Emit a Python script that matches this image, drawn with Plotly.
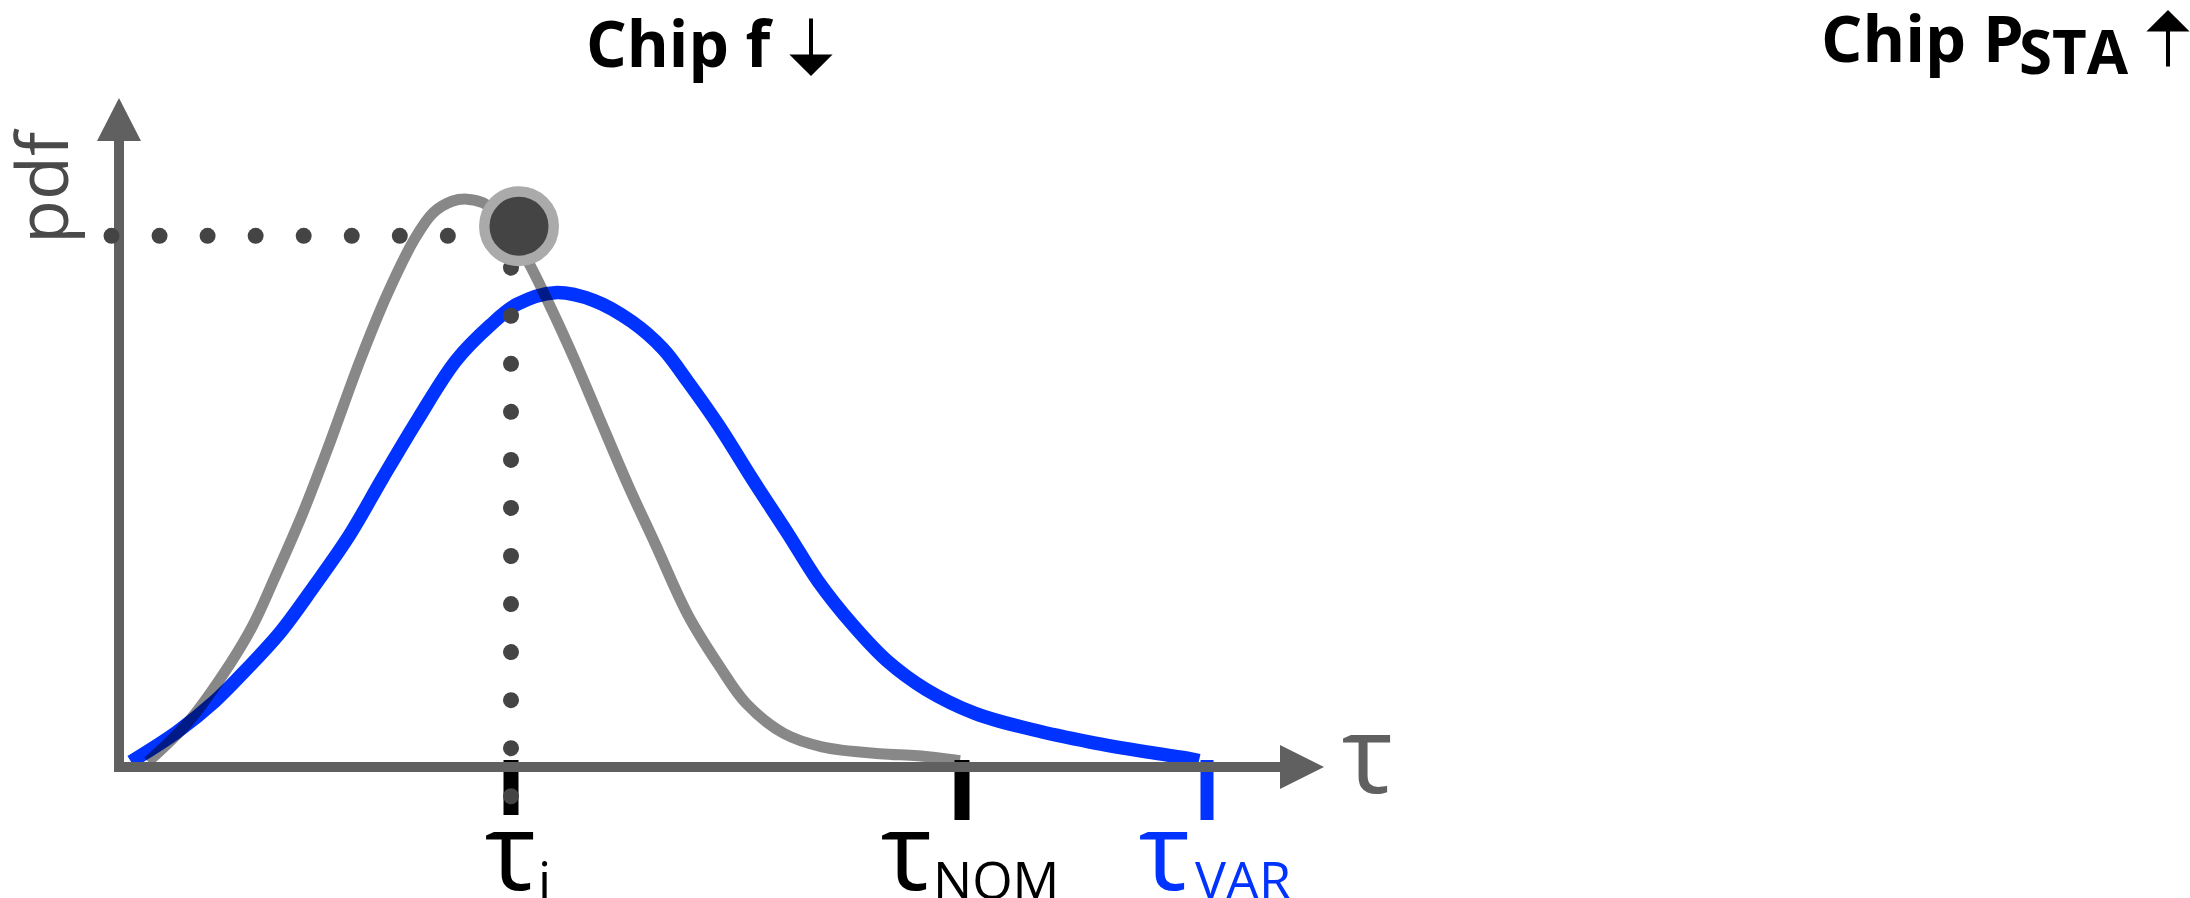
import numpy as np
import plotly.graph_objects as go

# ---- data -------------------------------------------------------------
# delay pdf of the nominal chip (grey) and with variation (blue)
tau_nom = [0.29, 0.69, 1.11, 1.34, 1.57, 1.84, 2.11, 2.41, 2.68, 2.95, 3.14, 3.33,
           3.48, 3.64, 3.75, 3.93, 4.10, 4.33, 4.56, 4.79, 5.09, 5.36, 5.69, 6.00,
           6.27, 6.65, 7.03, 7.61, 7.99, 8.41]
pdf_nom = [0.010, 0.084, 0.194, 0.267, 0.362, 0.479, 0.611, 0.765, 0.889, 0.992, 1.043, 1.065,
           1.069, 1.062, 1.047, 1.000, 0.948, 0.860, 0.765, 0.663, 0.531, 0.421, 0.286, 0.191,
           0.120, 0.063, 0.038, 0.025, 0.021, 0.012]

tau_var = [0.12, 0.58, 0.96, 1.26, 1.61, 1.95, 2.30, 2.64, 2.99, 3.37, 3.71, 3.98, 4.36,
           4.75, 5.13, 5.44, 5.69, 6.00, 6.34, 6.69, 6.99, 7.34, 7.68, 8.07, 8.56, 9.14,
           9.71, 10.29, 10.67, 10.80]
pdf_var = [0.010, 0.066, 0.124, 0.181, 0.253, 0.340, 0.435, 0.545, 0.655, 0.765, 0.831, 0.871, 0.893,
           0.878, 0.838, 0.787, 0.725, 0.642, 0.540, 0.439, 0.350, 0.267, 0.200, 0.146, 0.101, 0.070,
           0.047, 0.028, 0.017, 0.012]

# marked delays on the tau axis
tau_i, tau_nom_mark, tau_var_mark = 3.92, 8.43, 10.88
pdf_i = 1.0                      # pdf of the nominal chip at tau_i
point_tau, point_pdf = 4.00, 1.018

# ---- page geometry ------------------------------------------------------
W, H = 2190, 898
ORIGIN = (119.0, 767.0)          # pixel position of (tau=0, pdf=0)
PX_TAU, PX_PDF = 100.0, 531.2    # pixels per unit


def tx(px):
    return (px - ORIGIN[0]) / PX_TAU


def py(px):
    return (ORIGIN[1] - px) / PX_PDF


AXIS_GREY = "#606060"
DOT_GREY = "#444444"
BLUE = "#0033ff"
FONT = "Open Sans"

fig = go.Figure()

# distributions (grey is a multiplying dark tint so it darkens the blue where they cross)
fig.add_trace(go.Scatter(x=tau_var, y=pdf_var, mode="lines",
                         line=dict(color=BLUE, width=13.5, shape="spline", smoothing=1.0)))
fig.add_trace(go.Scatter(x=tau_nom, y=pdf_nom, mode="lines",
                         line=dict(color="rgba(0,0,0,0.467)", width=11, shape="spline", smoothing=1.0)))

# tick marks below the tau axis
for t, bottom, col, w in [(tau_i, 815, "black", 15), (tau_nom_mark, 820, "black", 15),
                          (tau_var_mark, 820, BLUE, 13)]:
    fig.add_trace(go.Scatter(x=[t, t], y=[py(760), py(bottom)], mode="lines", line=dict(color=col, width=w)))

# axes with arrow heads
fig.add_trace(go.Scatter(x=[tx(119), tx(119), tx(1282)], y=[py(141), py(767), py(767)], mode="lines",
                         line=dict(color=AXIS_GREY, width=10)))
fig.add_trace(go.Scatter(x=[tx(97), tx(141), tx(119), tx(97)], y=[py(141), py(141), py(98), py(141)],
                         mode="lines", fill="toself", fillcolor=AXIS_GREY, line=dict(color=AXIS_GREY, width=0)))
fig.add_trace(go.Scatter(x=[tx(1280), tx(1280), tx(1324), tx(1280)], y=[py(745), py(789), py(767), py(745)],
                         mode="lines", fill="toself", fillcolor=AXIS_GREY, line=dict(color=AXIS_GREY, width=0)))

# dotted guides from the marked point to both axes
step = 48.05
h_tau = tx(111.5) + np.arange(8) * step / PX_TAU
v_pdf = py(267.7) - np.arange(12) * step / PX_PDF
fig.add_trace(go.Scatter(x=h_tau, y=[pdf_i] * len(h_tau), mode="markers",
                         marker=dict(color=DOT_GREY, size=16, line=dict(width=0))))
fig.add_trace(go.Scatter(x=[tau_i] * len(v_pdf), y=v_pdf, mode="markers",
                         marker=dict(color=DOT_GREY, size=16, line=dict(width=0))))

# highlighted point
fig.add_trace(go.Scatter(x=[point_tau], y=[point_pdf], mode="markers",
                         marker=dict(color=DOT_GREY, size=69.5, line=dict(color="#aaaaaa", width=10.5))))


def label(text, px, pyc, size, color="black", anchor="left", family=FONT, **kw):
    fig.add_annotation(x=tx(px), y=py(pyc), text=text, showarrow=False, xanchor=anchor, yanchor="middle",
                       font=dict(family=family, size=size, color=color), **kw)


# tau labels
label("τ", 510.5, 848, 108, anchor="center")
label("i", 536, 878.5, 52)
label("τ", 906.5, 848, 108, anchor="center")
label("NOM", 931, 878.5, 52)
label("τ", 1164, 848, 108, color=BLUE, anchor="center")
label("VAR", 1193, 878.5, 52, color=BLUE)
label("τ", 1367.5, 751, 108, color=AXIS_GREY, anchor="center")
label("pdf", 40, 186, 72, color="#4a4a4a", anchor="center", textangle=-90)

# headings
label("<b>Chip f</b>", 584, 42.3, 64)
label("<b>Chip P</b>", 1819, 37, 65)
label("<b>STA</b>", 2017, 50.7, 60)


def arrow(px, tip, tail):
    fig.add_annotation(x=tx(px), y=py(tip), ax=0, ay=tail - tip, text="", showarrow=True,
                       arrowhead=1, arrowwidth=4, arrowsize=1.8, arrowcolor="black", standoff=0)


arrow(811, 76, 17)
arrow(2168, 10, 68)

fig.update_layout(
    width=W, height=H, margin=dict(l=0, r=0, t=0, b=0),
    paper_bgcolor="white", plot_bgcolor="white", showlegend=False, hovermode=False,
    xaxis=dict(range=[tx(0), tx(W)], visible=False, fixedrange=True),
    yaxis=dict(range=[py(H), py(0)], visible=False, fixedrange=True),
)

fig.write_html("out.html", config={"displayModeBar": False})
